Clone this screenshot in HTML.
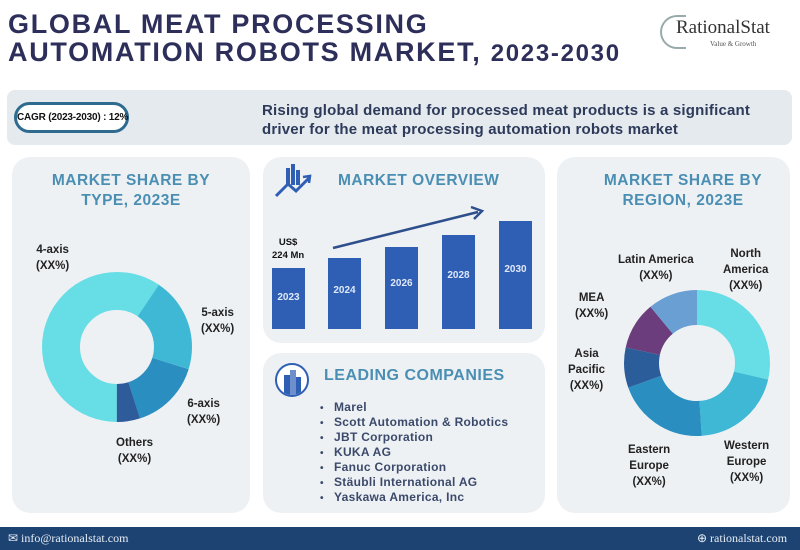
<!DOCTYPE html>
<html><head><meta charset="utf-8"><style>
*{margin:0;padding:0;box-sizing:border-box}
body{width:800px;height:550px;background:#fff;position:relative;overflow:hidden;font-family:"Liberation Sans",sans-serif}
.a{position:absolute}
.title{left:8px;font-weight:900;color:#2d2f5a;font-size:27px;letter-spacing:1.7px;white-space:nowrap}
.panel{background:#eef1f4;border-radius:18px}
.h{color:#4a8fb3;font-weight:bold;font-size:15.5px;letter-spacing:.5px;text-align:center;line-height:20px}
.lbl{font-weight:bold;font-size:11.5px;color:#222;text-align:center;line-height:16px;white-space:nowrap}
.bar{background:#2f5fb5;color:#dfe8f8;font-size:10px;font-weight:bold;text-align:center}
ul{list-style:none}
li{font-size:12px;font-weight:bold;color:#3b4a6b;height:15px;line-height:15px;letter-spacing:.3px}
li:before{content:"•";display:inline-block;width:14px;font-size:10px}
</style></head><body>
<div class="a title" style="top:9px">GLOBAL MEAT PROCESSING</div>
<div class="a title" style="top:37px">AUTOMATION ROBOTS MARKET, <span style="font-size:24px">2023-2030</span></div>
<div class="a" style="left:660px;top:15px;width:26px;height:34px;border:2px solid #9aa;border-right:none;border-radius:17px 0 0 17px"></div>
<div class="a" style="left:676px;top:17px;font-family:'Liberation Serif',serif;font-size:19px;color:#333">RationalStat</div>
<div class="a" style="left:710px;top:40px;font-family:'Liberation Serif',serif;font-size:7px;color:#555">Value &amp; Growth</div>

<div class="a" style="left:7px;top:90px;width:785px;height:55px;background:#e5eaee;border-radius:8px"></div>
<div class="a" style="left:14px;top:102px;width:115px;height:31px;background:#fff;border:3px solid #2e6b8f;border-radius:16px;font-size:10px;font-weight:bold;color:#111;text-align:center;line-height:25px;white-space:nowrap;letter-spacing:-.2px">CAGR (2023-2030) : 12%</div>
<div class="a" style="left:262px;top:101px;font-size:15px;font-weight:bold;color:#2d3a5a;line-height:19px;letter-spacing:.2px">Rising global demand for processed meat products is a significant<br>driver for the meat processing automation robots market</div>

<div class="a panel" style="left:12px;top:157px;width:238px;height:356px"></div>
<div class="a h" style="left:12px;top:171px;width:238px">MARKET SHARE BY<br>TYPE, 2023E</div>
<svg class="a" style="left:0;top:0" width="800" height="550">
<g transform="translate(117,347) rotate(-90)" fill="none" stroke-width="38">
<circle r="56" stroke="#67dde6" stroke-dasharray="176 400" stroke-dashoffset="-175.9"/>
<circle r="56" stroke="#67dde6" stroke-dasharray="33.5 400" stroke-dashoffset="0"/>
<circle r="56" stroke="#3eb8d4" stroke-dasharray="71.35 400" stroke-dashoffset="-33.2"/>
<circle r="56" stroke="#2a8fc0" stroke-dasharray="53.76 400" stroke-dashoffset="-104.6"/>
<circle r="56" stroke="#2e5c9a" stroke-dasharray="17.6 400" stroke-dashoffset="-158.3"/>
</g>
</svg>
<div class="a lbl" style="left:36px;top:242px">4-axis<br>(XX%)</div>
<div class="a lbl" style="left:201px;top:305px">5-axis<br>(XX%)</div>
<div class="a lbl" style="left:187px;top:396px">6-axis<br>(XX%)</div>
<div class="a lbl" style="left:116px;top:435px">Others<br>(XX%)</div>

<div class="a panel" style="left:263px;top:157px;width:282px;height:186px"></div>
<div class="a h" style="left:338px;top:171px;text-align:left">MARKET OVERVIEW</div>
<svg class="a" style="left:0;top:0" width="800" height="550">
<g fill="#2f5fb5"><rect x="286" y="168" width="4" height="17"/><rect x="291" y="164" width="4" height="21"/><rect x="296" y="170" width="4" height="15"/></g>
<path d="M276 196 L288 184 L296 191 L309 178" stroke="#2f5fb5" stroke-width="3" fill="none"/>
<path d="M303 177 L310 176 L309 183" stroke="#2f5fb5" stroke-width="2.5" fill="none"/>
<path d="M333 248 L478 212" stroke="#2d4f8c" stroke-width="2.5"/>
<path d="M471 207 L482 211 L474 219" stroke="#2d4f8c" stroke-width="2.5" fill="none"/>
</svg>
<div class="a lbl" style="left:272px;top:236px;font-size:9.5px;line-height:13px;color:#111">US$<br>224 Mn</div>
<div class="a bar" style="left:272px;top:268px;width:33px;height:61px;padding-top:24px">2023</div>
<div class="a bar" style="left:328px;top:258px;width:33px;height:71px;padding-top:27px">2024</div>
<div class="a bar" style="left:385px;top:247px;width:33px;height:82px;padding-top:31px">2026</div>
<div class="a bar" style="left:442px;top:235px;width:33px;height:94px;padding-top:35px">2028</div>
<div class="a bar" style="left:499px;top:221px;width:33px;height:108px;padding-top:43px">2030</div>

<div class="a panel" style="left:263px;top:353px;width:282px;height:160px"></div>
<div class="a" style="left:275px;top:363px;width:34px;height:34px;border-radius:50%;border:2.5px solid #2f5fb5;background:#fff;overflow:hidden">
<div class="a" style="left:7px;top:10px;width:6px;height:20px;background:#2f5fb5"></div>
<div class="a" style="left:13px;top:5px;width:6px;height:25px;background:#2f5fb5;opacity:.7"></div>
<div class="a" style="left:19px;top:12px;width:5px;height:18px;background:#2f5fb5"></div></div>
<div class="a h" style="left:324px;top:366px;text-align:left;font-size:16px">LEADING COMPANIES</div>
<ul class="a" style="left:320px;top:400px">
<li>Marel</li><li>Scott Automation &amp; Robotics</li><li>JBT Corporation</li><li>KUKA AG</li><li>Fanuc Corporation</li><li>Stäubli International AG</li><li>Yaskawa America, Inc</li></ul>

<div class="a panel" style="left:557px;top:157px;width:233px;height:356px"></div>
<div class="a h" style="left:557px;top:171px;width:252px">MARKET SHARE BY<br>REGION, 2023E</div>
<svg class="a" style="left:0;top:0" width="800" height="550">
<g transform="translate(697,363) rotate(-90)" fill="none" stroke-width="35">
<circle r="55.5" stroke="#67dde6" stroke-dasharray="99.8 400" stroke-dashoffset="0"/>
<circle r="55.5" stroke="#3eb8d4" stroke-dasharray="70.7 400" stroke-dashoffset="-99.8"/>
<circle r="55.5" stroke="#2a8fc0" stroke-dasharray="71.7 400" stroke-dashoffset="-170.5"/>
<circle r="55.5" stroke="#2b5d9b" stroke-dasharray="31 400" stroke-dashoffset="-242.2"/>
<circle r="55.5" stroke="#6b3d7d" stroke-dasharray="36.8 400" stroke-dashoffset="-273.2"/>
<circle r="55.5" stroke="#6a9fd4" stroke-dasharray="38.7 400" stroke-dashoffset="-310"/>
</g>
</svg>
<div class="a lbl" style="left:618px;top:252px">Latin America<br>(XX%)</div>
<div class="a lbl" style="left:723px;top:246px">North<br>America<br>(XX%)</div>
<div class="a lbl" style="left:575px;top:290px">MEA<br>(XX%)</div>
<div class="a lbl" style="left:568px;top:346px">Asia<br>Pacific<br>(XX%)</div>
<div class="a lbl" style="left:628px;top:442px">Eastern<br>Europe<br>(XX%)</div>
<div class="a lbl" style="left:724px;top:438px">Western<br>Europe<br>(XX%)</div>

<div class="a" style="left:0;top:527px;width:800px;height:23px;background:#1d4373"></div>
<div class="a" style="left:8px;top:531px;font-family:'Liberation Serif',serif;font-size:12px;color:#e8eef5">✉ info@rationalstat.com</div>
<div class="a" style="left:697px;top:531px;font-family:'Liberation Serif',serif;font-size:12px;color:#e8eef5">⊕ rationalstat.com</div>
</body></html>
